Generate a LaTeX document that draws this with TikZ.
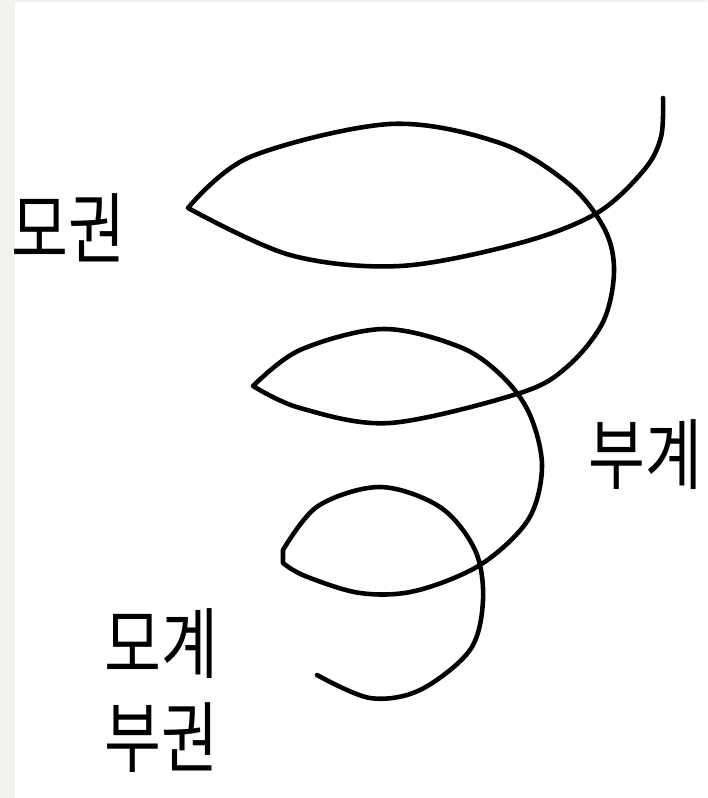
\documentclass[tikz,border=0pt]{standalone}
\usepackage{fontspec}
\newfontfamily\kofont{Noto Sans CJK KR}
\definecolor{margingray}{RGB}{240,240,236}
\begin{document}
\begin{tikzpicture}[x=0.02cm, y=-0.02cm,
  spiral/.style = {line width=2.6pt, line join=round, line cap=round},
  label/.style = {font=\kofont\fontsize{44}{52}\selectfont, xscale=0.8, inner sep=0pt}]
% page and grey margin
\fill[white] (0,0) rectangle (707,798);
\fill[margingray] (0,0) rectangle (15,798);
\fill[margingray] (0,0) rectangle (707,2);
\useasboundingbox (0,0) rectangle (707,798);

% the coil, top to bottom
\draw[spiral] plot[smooth, tension=0.55] coordinates {(663,98) (661,137) (644,170) (597,213) (520,243) (400,266) (290,255) (188,208)}
  -- plot[smooth, tension=0.55] coordinates {(188,208) (250,157) (390,124) (500,143) (570,185) (605,230) (614,272) (603,322) (568,366) (520,393) (390,423) (300,408) (253,386)}
  -- plot[smooth, tension=0.55] coordinates {(253,386) (300,350) (383,329) (460,347) (503,377) (530,415) (542,467) (528,520) (480,565) (415,591) (360,593) (305,576) (283,563)}
  -- (283,550)
  -- plot[smooth, tension=0.55] coordinates {(283,550) (318,506) (380,487) (440,507) (475,550) (483,600) (470,650) (420,690) (370,698) (317,675)};

% labels
\node[label] (mogwon) at (68,228) {모권};
\node[label] (bugye) at (645,455) {부계};
\node[label] (mogye) at (161,644) {모계};
\node[label] (bugwon) at (161,738) {부권};
\end{tikzpicture}
\end{document}
